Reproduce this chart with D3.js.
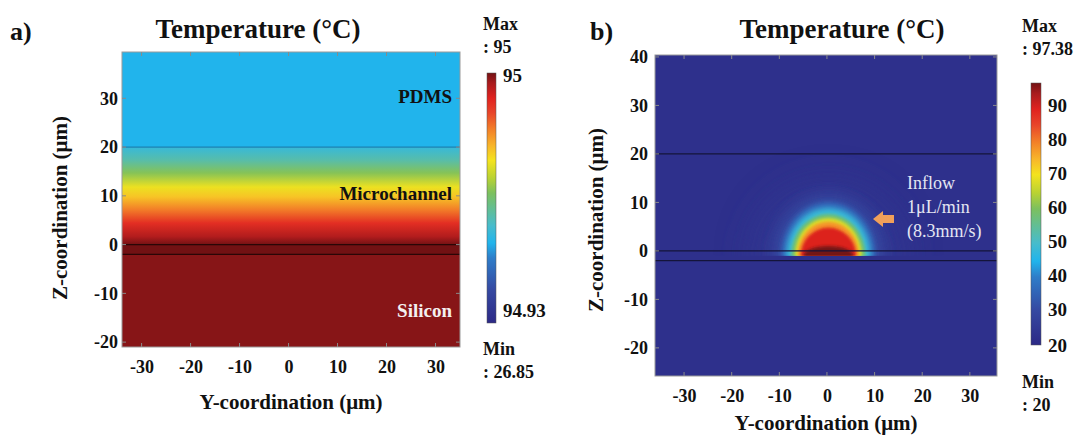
<!DOCTYPE html>
<html><head><meta charset="utf-8">
<script src="https://cdn.jsdelivr.net/npm/d3@7"></script>
<style>
body{margin:0;background:#fff;}
text{font-family:"Liberation Serif","Times New Roman",serif;}
</style>
</head><body>
<svg id="chart" width="1078" height="437"></svg>
<script>
// ---------------- DATA ----------------
const yTicks = [-30, -20, -10, 0, 10, 20, 30];
const zTicksA = [-20, -10, 0, 10, 20, 30];
const zTicksB = [-20, -10, 0, 10, 20, 30, 40];
const cbTicksB = [20, 30, 40, 50, 60, 70, 80, 90];
const aMax = 95, aMin = 26.85, aBarTop = 95, aBarBottom = 94.93;
const bMax = 97.38, bMin = 20;
// COMSOL-like rainbow colormap (normalized position -> colour)
const cmapPos = [0, 0.13, 0.26, 0.32, 0.39, 0.52, 0.58, 0.65, 0.71, 0.78, 0.84, 0.90, 0.96, 1.0];
const cmapCol = ["#2c2986", "#3548a1", "#2e7dc9", "#21b4ec", "#48bccb", "#7cc05e", "#b9d233", "#f4e31e", "#f8b52a", "#f27b28", "#e8452a", "#e0221f", "#a81b1d", "#731214"];
// panel a: layer interfaces (µm) and temperature profile in the channel (normalized level)
const layerZ = [20, 0, -2];
const aProfileZ = [0, 1.6, 4.4, 7.1, 9.8, 11.8, 14.7, 17.3, 20];
const aProfileLevel = [1.0, 0.95, 0.88, 0.78, 0.69, 0.64, 0.53, 0.43, 0.36];
const aPdmsLevel = 0.32, aSiliconLevel = 0.985;
const aLabels = ["PDMS", "Microchannel", "Silicon"];
const aLabelZ = [30, 10, -14];
// panel b: isotherm envelopes around the heater (°C, half-width µm, height µm)
const bIsoT  = [25, 30, 37, 48, 58, 68, 78, 90, 97.38];
const bIsoRx = [17, 11.5, 9.8, 8.8, 7.8, 7.0, 6.4, 5.8, 5.2];
const bIsoRz = [15, 11.5, 10, 8.8, 7.6, 6.8, 6.0, 4.8, 1.0];
const bBackgroundT = 22.4;
const annotLines = ["Inflow", "1\u03bcL/min", "(8.3mm/s)"];

// ---------------- SETUP ----------------
const svg = d3.select("#chart");
const defs = svg.append("defs");
const cmap = d3.scaleLinear().domain(cmapPos).range(cmapCol).interpolate(d3.interpolateRgb).clamp(true);
const SERIF = '"Liberation Serif","Times New Roman",serif';

function vGradient(id, pos, levels) {
  const g = defs.append("linearGradient").attr("id", id).attr("x1", 0).attr("x2", 0).attr("y1", 1).attr("y2", 0);
  pos.forEach((p, i) => g.append("stop").attr("offset", p).attr("stop-color", cmap(levels[i])));
}

function addTicksInward(g, xs, zs, x, z) {
  const [x0, x1] = x.range(), [z0, z1] = z.range();
  const tk = g.append("g").attr("stroke", "#8a8a8a").attr("stroke-width", 1);
  xs.forEach(v => {
    tk.append("line").attr("x1", x(v)).attr("x2", x(v)).attr("y1", z1).attr("y2", z1 + 4);
    tk.append("line").attr("x1", x(v)).attr("x2", x(v)).attr("y1", z0).attr("y2", z0 - 4);
  });
  zs.forEach(v => {
    if (z(v) < z1 + 1 || z(v) > z0 - 1) return;
    tk.append("line").attr("x1", x0).attr("x2", x0 + 4).attr("y1", z(v)).attr("y2", z(v));
    tk.append("line").attr("x1", x1).attr("x2", x1 - 4).attr("y1", z(v)).attr("y2", z(v));
  });
}

function axesLabels(x, z, xs, zs, xLabelY, zLabelX, xTitleY, zTitleX, zTitleY) {
  const fmt = d => String(d);
  const ax = svg.append("g").attr("transform", `translate(0,${xLabelY})`)
    .call(d3.axisBottom(x).tickValues(xs).tickSize(0).tickPadding(0).tickFormat(fmt));
  ax.select(".domain").remove();
  ax.selectAll("text").attr("font-size", 18).attr("font-weight", "bold").attr("fill", "#111")
    .style("font-family", SERIF).attr("dy", "0.35em");
  const az = svg.append("g").attr("transform", `translate(${zLabelX},0)`)
    .call(d3.axisLeft(z).tickValues(zs).tickSize(0).tickPadding(0).tickFormat(fmt));
  az.select(".domain").remove();
  az.selectAll("text").attr("font-size", 18).attr("font-weight", "bold").attr("fill", "#111")
    .style("font-family", SERIF);
  const [xa, xb] = x.range();
  svg.append("text").attr("x", (xa + xb) / 2).attr("y", xTitleY).attr("text-anchor", "middle")
    .attr("dominant-baseline", "middle").attr("font-size", 21).attr("font-weight", "bold").attr("fill", "#111")
    .text("Y-coordination (\u03bcm)");
  svg.append("text").attr("transform", `translate(${zTitleX},${zTitleY}) rotate(-90)`)
    .attr("text-anchor", "middle").attr("dominant-baseline", "middle")
    .attr("font-size", 21).attr("font-weight", "bold").attr("fill", "#111")
    .text("Z-coordination (\u03bcm)");
}

function title(x, label, lx) {
  svg.append("text").attr("x", lx).attr("y", 40).attr("font-size", 26).attr("font-weight", "bold").attr("fill", "#111").text(label);
  svg.append("text").attr("x", x).attr("y", 38).attr("text-anchor", "middle").attr("font-size", 27)
    .attr("font-weight", "bold").attr("fill", "#111").text("Temperature (\u00b0C)");
}

function bold(x, y, t, size, anchor) {
  return svg.append("text").attr("x", x).attr("y", y).attr("font-size", size || 18).attr("font-weight", "bold")
    .attr("fill", "#111").attr("text-anchor", anchor || "start").attr("dominant-baseline", "middle").text(t);
}

// ---------------- PANEL A ----------------
const xA = d3.scaleLinear().domain([-34, 35]).range([122, 460]);
const zA = d3.scaleLinear().domain([-21, 39.5]).range([347, 52]);
const gA = svg.append("g");
defs.append("clipPath").attr("id", "clipA").append("rect")
  .attr("x", 122).attr("y", 52).attr("width", 338).attr("height", 295);
const pa = gA.append("g").attr("clip-path", "url(#clipA)");
pa.append("rect").attr("x", xA(-34)).attr("width", xA(35) - xA(-34))
  .attr("y", zA(39.5)).attr("height", zA(layerZ[0]) - zA(39.5)).attr("fill", cmap(aPdmsLevel));
vGradient("gradA", aProfileZ.map(z => z / 20), aProfileLevel);
pa.append("rect").attr("x", xA(-34)).attr("width", xA(35) - xA(-34))
  .attr("y", zA(layerZ[0])).attr("height", zA(layerZ[1]) - zA(layerZ[0])).attr("fill", "url(#gradA)");
pa.append("rect").attr("x", xA(-34)).attr("width", xA(35) - xA(-34))
  .attr("y", zA(layerZ[1])).attr("height", zA(-21) - zA(layerZ[1])).attr("fill", cmap(aSiliconLevel));
pa.append("rect").attr("x", xA(-34)).attr("width", xA(35) - xA(-34))
  .attr("y", zA(layerZ[1])).attr("height", zA(layerZ[2]) - zA(layerZ[1])).attr("fill", "#000").attr("opacity", 0.15);
pa.append("line").attr("x1", xA(-34)).attr("x2", xA(35)).attr("y1", zA(layerZ[0])).attr("y2", zA(layerZ[0]))
  .attr("stroke", "#1b80b0").attr("stroke-width", 1.2);
[layerZ[1], layerZ[2]].forEach(z => pa.append("line").attr("x1", xA(-34)).attr("x2", xA(35))
  .attr("y1", zA(z)).attr("y2", zA(z)).attr("stroke", "#2a0606").attr("stroke-width", 1.2));
gA.append("rect").attr("x", 122).attr("y", 52).attr("width", 338).attr("height", 295)
  .attr("fill", "none").attr("stroke", "#9a9a9a").attr("stroke-width", 1);
addTicksInward(gA, yTicks, zTicksA, xA, zA);
aLabels.forEach((t, i) => {
  svg.append("text").attr("x", 452).attr("y", zA(aLabelZ[i])).attr("text-anchor", "end")
    .attr("dominant-baseline", "middle").attr("font-size", 19).attr("font-weight", "bold")
    .attr("fill", i === 2 ? "#f4f0f0" : "#111").text(t);
});
axesLabels(xA, zA, yTicks, zTicksA, 367, 118, 404, 62, 208);
title(258, "a)", 10);
const cbA = d3.scaleLinear().domain([aBarBottom, aBarTop]).range([323, 73]);
vGradient("cbGradA", cmapPos, cmapPos);
svg.append("rect").attr("x", 487).attr("y", cbA(aBarTop)).attr("width", 9).attr("height", cbA(aBarBottom) - cbA(aBarTop))
  .attr("fill", "url(#cbGradA)").attr("stroke", "#555").attr("stroke-width", 0.5);
bold(503, cbA(aBarTop) + 5, d3.format("d")(aBarTop), 19);
bold(503, cbA(aBarBottom) - 10, d3.format(".2f")(aBarBottom), 19);
bold(483, 26, "Max", 18);
bold(483, 49, ": " + aMax, 18);
bold(483, 351, "Min", 18);
bold(483, 374, ": " + aMin, 18);

// ---------------- PANEL B ----------------
const xB = d3.scaleLinear().domain([-36.1, 35.7]).range([655, 997]);
const zB = d3.scaleLinear().domain([-25.8, 40.4]).range([376, 55]);
const tNorm = d3.scaleLinear().domain([bMin, bMax]);
const gB = svg.append("g");
defs.append("clipPath").attr("id", "clipB").append("rect")
  .attr("x", 655).attr("y", 55).attr("width", 342).attr("height", 321);
defs.append("clipPath").attr("id", "clipGlow").append("rect")
  .attr("x", 655).attr("y", 55).attr("width", 342).attr("height", zB(-1) - 55);
const pb = gB.append("g").attr("clip-path", "url(#clipB)");
pb.append("rect").attr("x", 655).attr("y", 55).attr("width", 342).attr("height", 321)
  .attr("fill", cmap(tNorm(bBackgroundT)));
const glow = pb.append("g").attr("clip-path", "url(#clipGlow)");
const pxX = xB(1) - xB(0), pxZ = zB(0) - zB(1);
bIsoT.forEach((t, i) => {
  const blur = i === 0 ? 16 : (i === 1 ? 7 : (i < 4 ? 2.6 : 1.6));
  defs.append("filter").attr("id", "blur" + i).attr("x", "-80%").attr("y", "-80%").attr("width", "260%").attr("height", "260%")
    .append("feGaussianBlur").attr("stdDeviation", blur);
  glow.append("ellipse").attr("cx", xB(0.3)).attr("cy", zB(-0.9))
    .attr("rx", bIsoRx[i] * pxX).attr("ry", (bIsoRz[i] + 0.9) * pxZ)
    .attr("fill", cmap(tNorm(t))).attr("opacity", i === 0 ? 0.7 : 1).attr("filter", `url(#blur${i})`);
});
layerZ.forEach(z => pb.append("line").attr("x1", 655).attr("x2", 997).attr("y1", zB(z)).attr("y2", zB(z))
  .attr("stroke", "#14143a").attr("stroke-width", 1.2));
gB.append("rect").attr("x", 655).attr("y", 55).attr("width", 342).attr("height", 321)
  .attr("fill", "none").attr("stroke", "#9a9a9a").attr("stroke-width", 1);
addTicksInward(gB, yTicks, zTicksB, xB, zB);
annotLines.forEach((t, i) => {
  svg.append("text").attr("x", 907).attr("y", 185 + i * 24).attr("dominant-baseline", "middle")
    .attr("font-size", 18).attr("fill", "#e4e6f2").text(t);
});
svg.append("path").attr("fill", "#f0a05a")
  .attr("d", d3.line()([[873, 219], [883, 211], [883, 215], [894, 215], [894, 223], [883, 223], [883, 227]]) + "Z");
axesLabels(xB, zB, yTicks, zTicksB, 396, 648, 425, 598, 220);
title(842, "b)", 590);
const cbB = d3.scaleLinear().domain([bMin, bMax]).range([345, 83]);
svg.append("rect").attr("x", 1031).attr("y", cbB(bMax)).attr("width", 10).attr("height", cbB(bMin) - cbB(bMax))
  .attr("fill", "url(#cbGradA)").attr("stroke", "#555").attr("stroke-width", 0.5);
cbTicksB.forEach(v => bold(1048, cbB(v) + (v === 20 ? 3 : 0), String(v), 19));
bold(1022, 28, "Max", 18);
bold(1022, 51, ": " + bMax, 18);
bold(1022, 384, "Min", 18);
bold(1022, 407, ": " + bMin, 18);
</script>
</body></html>
